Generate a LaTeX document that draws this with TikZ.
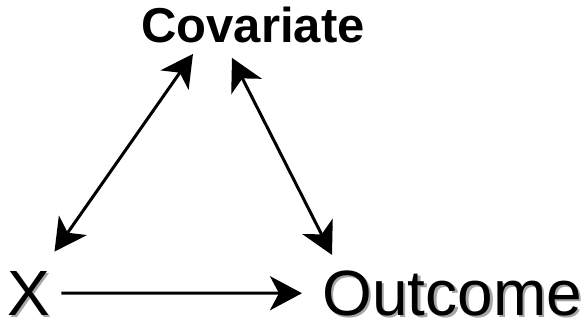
\documentclass[tikz,border=0pt]{standalone}
\usepackage{fontspec}
\setmainfont{Liberation Sans}
\usetikzlibrary{arrows.meta, calc}
\newcommand{\shadowed}[1]{\makebox[0pt][l]{\hspace{1.25pt}\raisebox{-1.25pt}{\color{black!35}#1}}#1}
\tikzset{
	label big/.style={inner sep=0pt, font=\fontsize{32pt}{38pt}\selectfont},
	label top/.style={inner sep=0pt, font=\fontsize{24.5pt}{29pt}\selectfont\bfseries},
	link/.style={line width=1.5pt, black, >={Stealth[length=16pt, width=17pt, inset=4.5pt]}},
}

\begin{document}
\begin{tikzpicture}[x=0.5pt, y=-0.5pt]
		\useasboundingbox (0,0) rectangle (586,322);
		
		\node (cov) [label top, anchor=base west] at (141,42) {Covariate};
		\node (x) [label big, anchor=base west] at (7,315) {\shadowed{X}};
		\node (outcome) [label big, anchor=base west] at (322,315) {\shadowed{Outcome}};
		
		\begin{scope}[link]
			\draw [<->] ($(x.north east)+(4,-19)$) -- ($(cov.south west)+(52,11)$);
			\draw [<->] ($(cov.south west)+(91,15)$) -- ($(outcome.north west)+(10,-15)$);
			\draw [->] ($(x.east)+(11,-1)$) -- ($(outcome.west)+(-20,-1)$);
		\end{scope}
\end{tikzpicture}
\end{document}
